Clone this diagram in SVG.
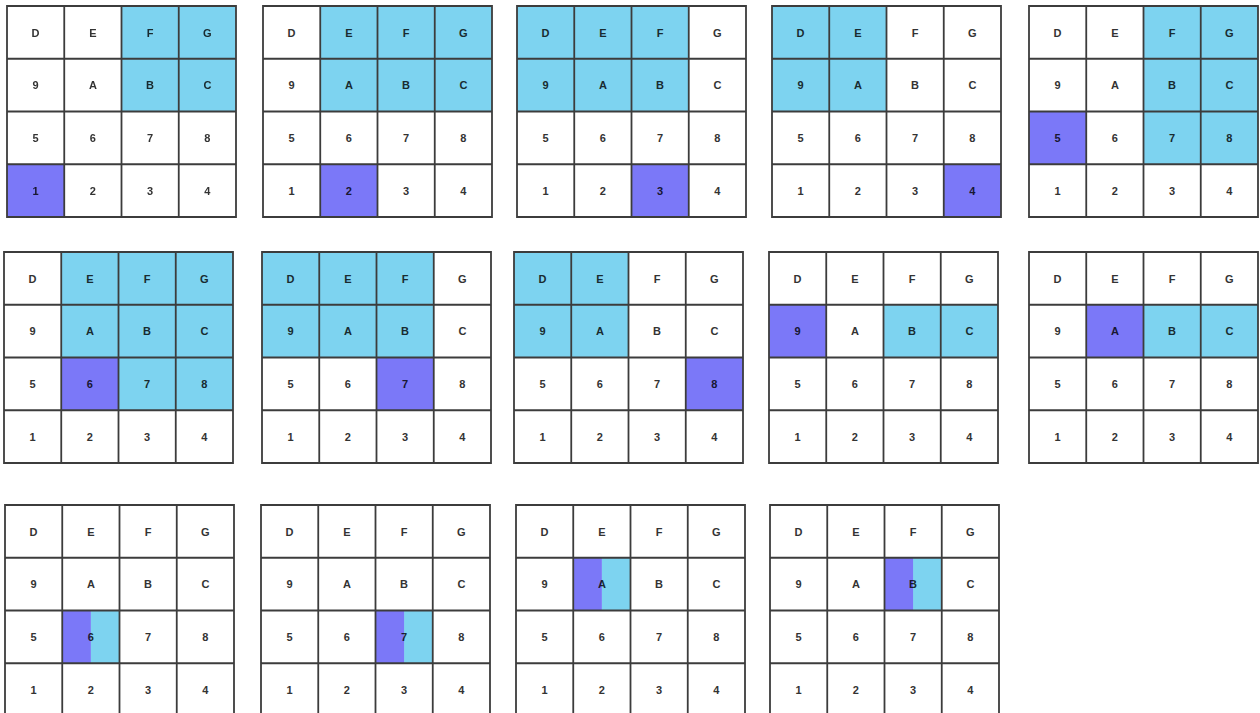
<svg xmlns="http://www.w3.org/2000/svg" xmlns:xlink="http://www.w3.org/1999/xlink" width="1260" height="713" viewBox="0 0 1260 713">
<style>
.bg{fill:#fff}
.t{font-family:"Liberation Sans",Arial,sans-serif;font-weight:bold;font-size:11px;text-anchor:middle;fill:#333}
.b{fill:#7dd3f0;mix-blend-mode:multiply}
.p{fill:#7b78f8;mix-blend-mode:multiply}
.g{fill:none;stroke:#3c3c3c;stroke-width:1.8}
</style>
<defs>
<path id="grid" class="g" d="M0 0H229V211H0Z M57.25 0V211 M114.5 0V211 M171.75 0V211 M0 52.75H229 M0 105.5H229 M0 158.25H229"/>
<g id="labels">
<text class="t" x="28.6" y="30.5">D</text><text class="t" x="85.9" y="30.5">E</text><text class="t" x="143.1" y="30.5">F</text><text class="t" x="200.4" y="30.5">G</text>
<text class="t" x="28.6" y="83.2">9</text><text class="t" x="85.9" y="83.2">A</text><text class="t" x="143.1" y="83.2">B</text><text class="t" x="200.4" y="83.2">C</text>
<text class="t" x="28.6" y="136">5</text><text class="t" x="85.9" y="136">6</text><text class="t" x="143.1" y="136">7</text><text class="t" x="200.4" y="136">8</text>
<text class="t" x="28.6" y="188.7">1</text><text class="t" x="85.9" y="188.7">2</text><text class="t" x="143.1" y="188.7">3</text><text class="t" x="200.4" y="188.7">4</text>
</g>
</defs>
<rect width="1260" height="713" fill="#fff"/>

<g id="panel1" transform="translate(7,6)">
<rect class="bg" width="229" height="211"/><use xlink:href="#labels"/>
<rect class="b" x="114.5" y="0" width="114.5" height="105.5"/>
<rect class="p" x="0" y="158.25" width="57.25" height="52.75"/>
<use xlink:href="#grid"/>
</g>
<g id="panel2" transform="translate(263,6)">
<rect class="bg" width="229" height="211"/><use xlink:href="#labels"/>
<rect class="b" x="57.25" y="0" width="171.75" height="105.5"/>
<rect class="p" x="57.25" y="158.25" width="57.25" height="52.75"/>
<use xlink:href="#grid"/>
</g>
<g id="panel3" transform="translate(517,6)">
<rect class="bg" width="229" height="211"/><use xlink:href="#labels"/>
<rect class="b" x="0" y="0" width="171.75" height="105.5"/>
<rect class="p" x="114.5" y="158.25" width="57.25" height="52.75"/>
<use xlink:href="#grid"/>
</g>
<g id="panel4" transform="translate(772,6)">
<rect class="bg" width="229" height="211"/><use xlink:href="#labels"/>
<rect class="b" x="0" y="0" width="114.5" height="105.5"/>
<rect class="p" x="171.75" y="158.25" width="57.25" height="52.75"/>
<use xlink:href="#grid"/>
</g>
<g id="panel5" transform="translate(1029,6)">
<rect class="bg" width="229" height="211"/><use xlink:href="#labels"/>
<rect class="b" x="114.5" y="0" width="114.5" height="158.25"/>
<rect class="p" x="0" y="105.5" width="57.25" height="52.75"/>
<use xlink:href="#grid"/>
</g>

<g id="panel6" transform="translate(4,252)">
<rect class="bg" width="229" height="211"/><use xlink:href="#labels"/>
<rect class="b" x="57.25" y="0" width="171.75" height="105.5"/>
<rect class="b" x="114.5" y="105.5" width="114.5" height="52.75"/>
<rect class="p" x="57.25" y="105.5" width="57.25" height="52.75"/>
<use xlink:href="#grid"/>
</g>
<g id="panel7" transform="translate(262,252)">
<rect class="bg" width="229" height="211"/><use xlink:href="#labels"/>
<rect class="b" x="0" y="0" width="171.75" height="105.5"/>
<rect class="p" x="114.5" y="105.5" width="57.25" height="52.75"/>
<use xlink:href="#grid"/>
</g>
<g id="panel8" transform="translate(514,252)">
<rect class="bg" width="229" height="211"/><use xlink:href="#labels"/>
<rect class="b" x="0" y="0" width="114.5" height="105.5"/>
<rect class="p" x="171.75" y="105.5" width="57.25" height="52.75"/>
<use xlink:href="#grid"/>
</g>
<g id="panel9" transform="translate(769,252)">
<rect class="bg" width="229" height="211"/><use xlink:href="#labels"/>
<rect class="b" x="114.5" y="52.75" width="114.5" height="52.75"/>
<rect class="p" x="0" y="52.75" width="57.25" height="52.75"/>
<use xlink:href="#grid"/>
</g>
<g id="panel10" transform="translate(1029,252)">
<rect class="bg" width="229" height="211"/><use xlink:href="#labels"/>
<rect class="b" x="114.5" y="52.75" width="114.5" height="52.75"/>
<rect class="p" x="57.25" y="52.75" width="57.25" height="52.75"/>
<use xlink:href="#grid"/>
</g>

<g id="panel11" transform="translate(5,505)">
<rect class="bg" width="229" height="211"/><use xlink:href="#labels"/>
<rect class="p" x="57.25" y="105.5" width="28.6" height="52.75"/>
<rect class="b" x="85.85" y="105.5" width="28.65" height="52.75"/>
<use xlink:href="#grid"/>
</g>
<g id="panel12" transform="translate(261,505)">
<rect class="bg" width="229" height="211"/><use xlink:href="#labels"/>
<rect class="p" x="114.5" y="105.5" width="28.6" height="52.75"/>
<rect class="b" x="143.1" y="105.5" width="28.65" height="52.75"/>
<use xlink:href="#grid"/>
</g>
<g id="panel13" transform="translate(516,505)">
<rect class="bg" width="229" height="211"/><use xlink:href="#labels"/>
<rect class="p" x="57.25" y="52.75" width="28.6" height="52.75"/>
<rect class="b" x="85.85" y="52.75" width="28.65" height="52.75"/>
<use xlink:href="#grid"/>
</g>
<g id="panel14" transform="translate(770,505)">
<rect class="bg" width="229" height="211"/><use xlink:href="#labels"/>
<rect class="p" x="114.5" y="52.75" width="28.6" height="52.75"/>
<rect class="b" x="143.1" y="52.75" width="28.65" height="52.75"/>
<use xlink:href="#grid"/>
</g>
</svg>
